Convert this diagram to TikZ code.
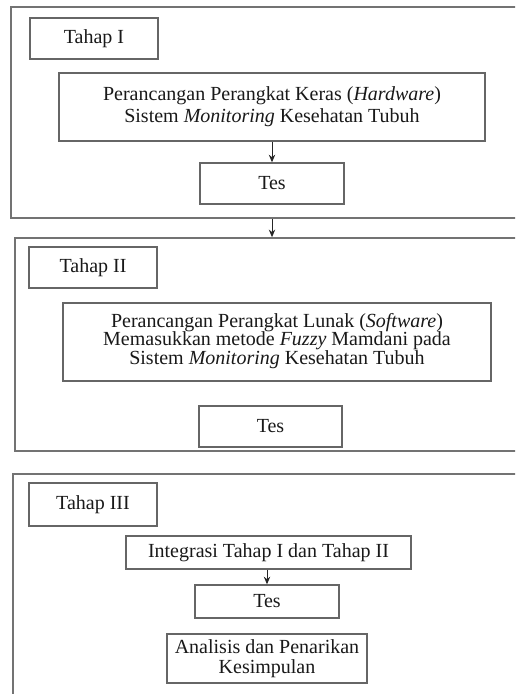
\documentclass[tikz,border=0pt]{standalone}
\usepackage{fontspec}
\setmainfont{Liberation Serif}
\usetikzlibrary{arrows.meta}
\newcommand\mytightlines{\fontsize{10}{9.3}\selectfont\lineskiplimit=-20pt\relax}
\begin{document}
\begin{tikzpicture}[x=0.5pt,y=-0.5pt,
  bx/.style={draw=black!60, line width=0.7pt, rectangle, inner sep=0pt, align=center, text=black!90, font=\fontsize{10}{11}\selectfont},
  frame/.style={draw=black!55, line width=0.8pt, rectangle, inner sep=0pt},
  arr/.style={draw=black!85, line width=0.5pt, -{Stealth[length=3.8pt,width=3.2pt]}}]
\useasboundingbox (0,0) rectangle (515,694);
\clip (0,0) rectangle (515,694);
\fill[white] (0,0) rectangle (515,694);

% Tahap I
\node[frame, minimum width=259.5pt, minimum height=105.5pt] (boxI) at (270.5,112.5) {};
\node[bx, minimum width=64pt, minimum height=20.5pt] (t1) at (94,38.5) {Tahap I};
\node[bx, minimum width=213pt, minimum height=34pt] (hw) at (272,107) {Perancangan Perangkat Keras (\textit{Hardware})\\ Sistem \textit{Monitoring} Kesehatan Tubuh};
\node[bx, minimum width=72pt, minimum height=20.5pt] (tes1) at (272,183.5) {Tes};
\draw[arr] (hw.south -| tes1.north) -- (tes1.north);

% Tahap II
\node[frame, minimum width=257.5pt, minimum height=106.5pt] (boxII) at (272.5,344.5) {};
\draw[arr] (tes1.south |- boxI.south) -- (tes1.south |- boxII.north);
\node[bx, minimum width=64pt, minimum height=20.5pt] (t2) at (93,267.5) {Tahap II};
\node[bx, minimum width=214pt, minimum height=39pt] (sw) at (277,342) {};
\node[align=center, inner sep=0pt, text=black!90, font=\mytightlines] (swt) at (277,341) {Perancangan Perangkat Lunak (\textit{Software})\\ Memasukkan metode \textit{Fuzzy} Mamdani pada\\ Sistem \textit{Monitoring} Kesehatan Tubuh};
\node[bx, minimum width=71.5pt, minimum height=20.5pt] (tes2) at (270.5,426.5) {Tes};

% Tahap III
\node[frame, minimum width=258.5pt, minimum height=123pt] (boxIII) at (271.5,597) {};
\node[bx, minimum width=64pt, minimum height=21.5pt] (t3) at (93,504.5) {Tahap III};
\node[bx, minimum width=142.5pt, minimum height=16.5pt] (ig) at (268.5,552.5) {Integrasi Tahap I dan Tahap II};
\node[bx, minimum width=72pt, minimum height=16.5pt] (tes3) at (267,601.5) {Tes};
\draw[arr] (ig.south -| tes3.north) -- (tes3.north);
\node[bx, minimum width=100pt, minimum height=24.5pt, font=\fontsize{10}{10}\selectfont] (an) at (267,658.5) {Analisis dan Penarikan\\ Kesimpulan};
\end{tikzpicture}
\end{document}
